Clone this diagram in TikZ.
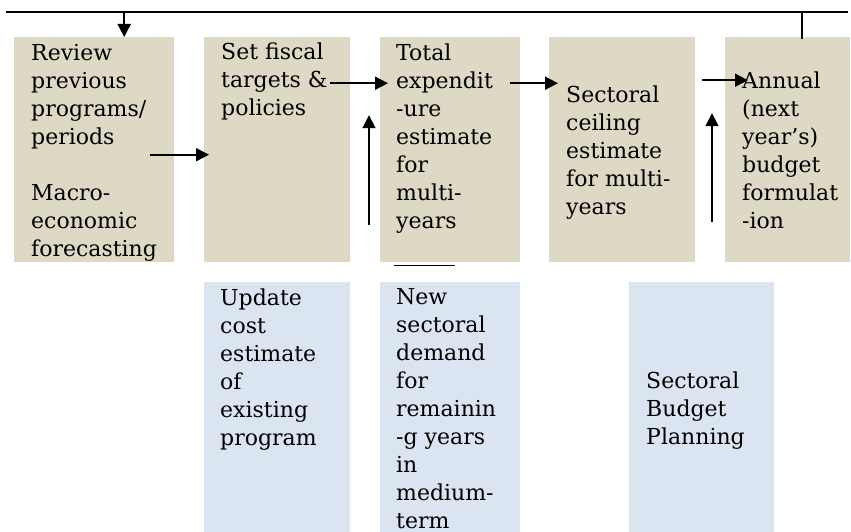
\documentclass[tikz,border=0pt]{standalone}
\usepackage{fontspec}
\setmainfont{DejaVu Serif}
\usetikzlibrary{arrows.meta}
\definecolor{tanfill}{HTML}{DDD9C4}
\definecolor{bluefill}{HTML}{DBE5F1}
\tikzset{
  tanbox/.style={fill=tanfill, inner sep=0pt, anchor=north west},
  bluebox/.style={fill=bluefill, inner sep=0pt, anchor=north west},
  boxtext/.style={anchor=base west, inner sep=0pt, align=left, font=\fontsize{22}{28}\selectfont},
  flow/.style={line width=1.8pt, -{Triangle[length=13pt,width=13pt]}},
  rule/.style={line width=1.8pt}
}
\begin{document}
\begin{tikzpicture}[x=1pt,y=-1pt]
    \useasboundingbox (0,0) rectangle (851,532);

    % Main steps
    \node[tanbox, minimum width=160, minimum height=225] (review) at (14,37) {};
    \node[tanbox, minimum width=146, minimum height=225] (fiscal) at (204,37) {};
    \node[tanbox, minimum width=140, minimum height=225] (total) at (380,37) {};
    \node[tanbox, minimum width=146, minimum height=225] (ceiling) at (549,37) {};
    \node[tanbox, minimum width=125, minimum height=225] (annual) at (725,37) {};

    % (texts sit on the baseline of their last line)
    \node[boxtext] (reviewtxt) at ([shift={(17,219)}]review.north west)
      {Review\\previous\\programs/\\periods\\[28pt]Macro-\\economic\\forecasting};
    \node[boxtext] (fiscaltxt) at ([shift={(17,79)}]fiscal.north west)
      {Set fiscal\\targets \&\\policies};
    \node[boxtext] (totaltxt) at ([shift={(16,191)}]total.north west)
      {Total\\expendit\\-ure\\estimate\\for\\multi-\\years};
    \node[boxtext] (ceilingtxt) at ([shift={(17,177)}]ceiling.north west)
      {Sectoral\\ceiling\\estimate\\for multi-\\years};
    \node[boxtext] (annualtxt) at ([shift={(17,191)}]annual.north west)
      {Annual\\(next\\year’s)\\budget\\formulat\\-ion};

    % Sectoral side
    \node[bluebox, minimum width=146, minimum height=250] (update) at (204,282) {};
    \node[bluebox, minimum width=140, minimum height=250] (newdemand) at (380,282) {};
    \node[bluebox, minimum width=145, minimum height=250] (sbp) at (629,282) {};

    \node[boxtext] (updatetxt) at ([shift={(16,163)}]update.north west)
      {Update\\cost\\estimate\\of\\existing\\program};
    \node[boxtext] (newdemandtxt) at ([shift={(16,246)}]newdemand.north west)
      {New\\sectoral\\demand\\for\\remainin\\-g years\\in\\medium-\\term};
    \node[boxtext] (sbptxt) at ([shift={(17,162)}]sbp.north west)
      {Sectoral\\Budget\\Planning};

    % Feedback line on top
    \coordinate (topL) at (6,12);
    \coordinate (topR) at (848,12);
    \draw[rule] (topL) -- (topR);
    \draw[flow] ([xshift=30]review.north |- topL) -- ([xshift=30]review.north);
    \draw[rule] ([xshift=14.5]annual.north |- topR) -- ([shift={(14.5,2)}]annual.north);

    % Flow between steps
    \draw[flow] ([shift={(-24,5)}]review.east) -- ([shift={(5,5)}]fiscal.west);
    \draw[flow] ([shift={(-20,-66.5)}]fiscal.east) -- ([shift={(8,-66.5)}]total.west);
    \draw[flow] ([shift={(-11,75.5)}]total.west) -- ([shift={(-11,-34.5)}]total.west);
    \draw[flow] ([shift={(-10,-66.5)}]total.east) -- ([shift={(9,-66.5)}]ceiling.west);
    \draw[flow] ([shift={(7,-69.5)}]ceiling.east) -- ([shift={(23,-69.5)}]annual.west);
    \draw[flow] ([shift={(-13,72.5)}]annual.west) -- ([shift={(-13,-36.5)}]annual.west);
    \draw[rule] ([shift={(-56,3)}]total.south) -- ([shift={(5,3)}]total.south);

\end{tikzpicture}
\end{document}
